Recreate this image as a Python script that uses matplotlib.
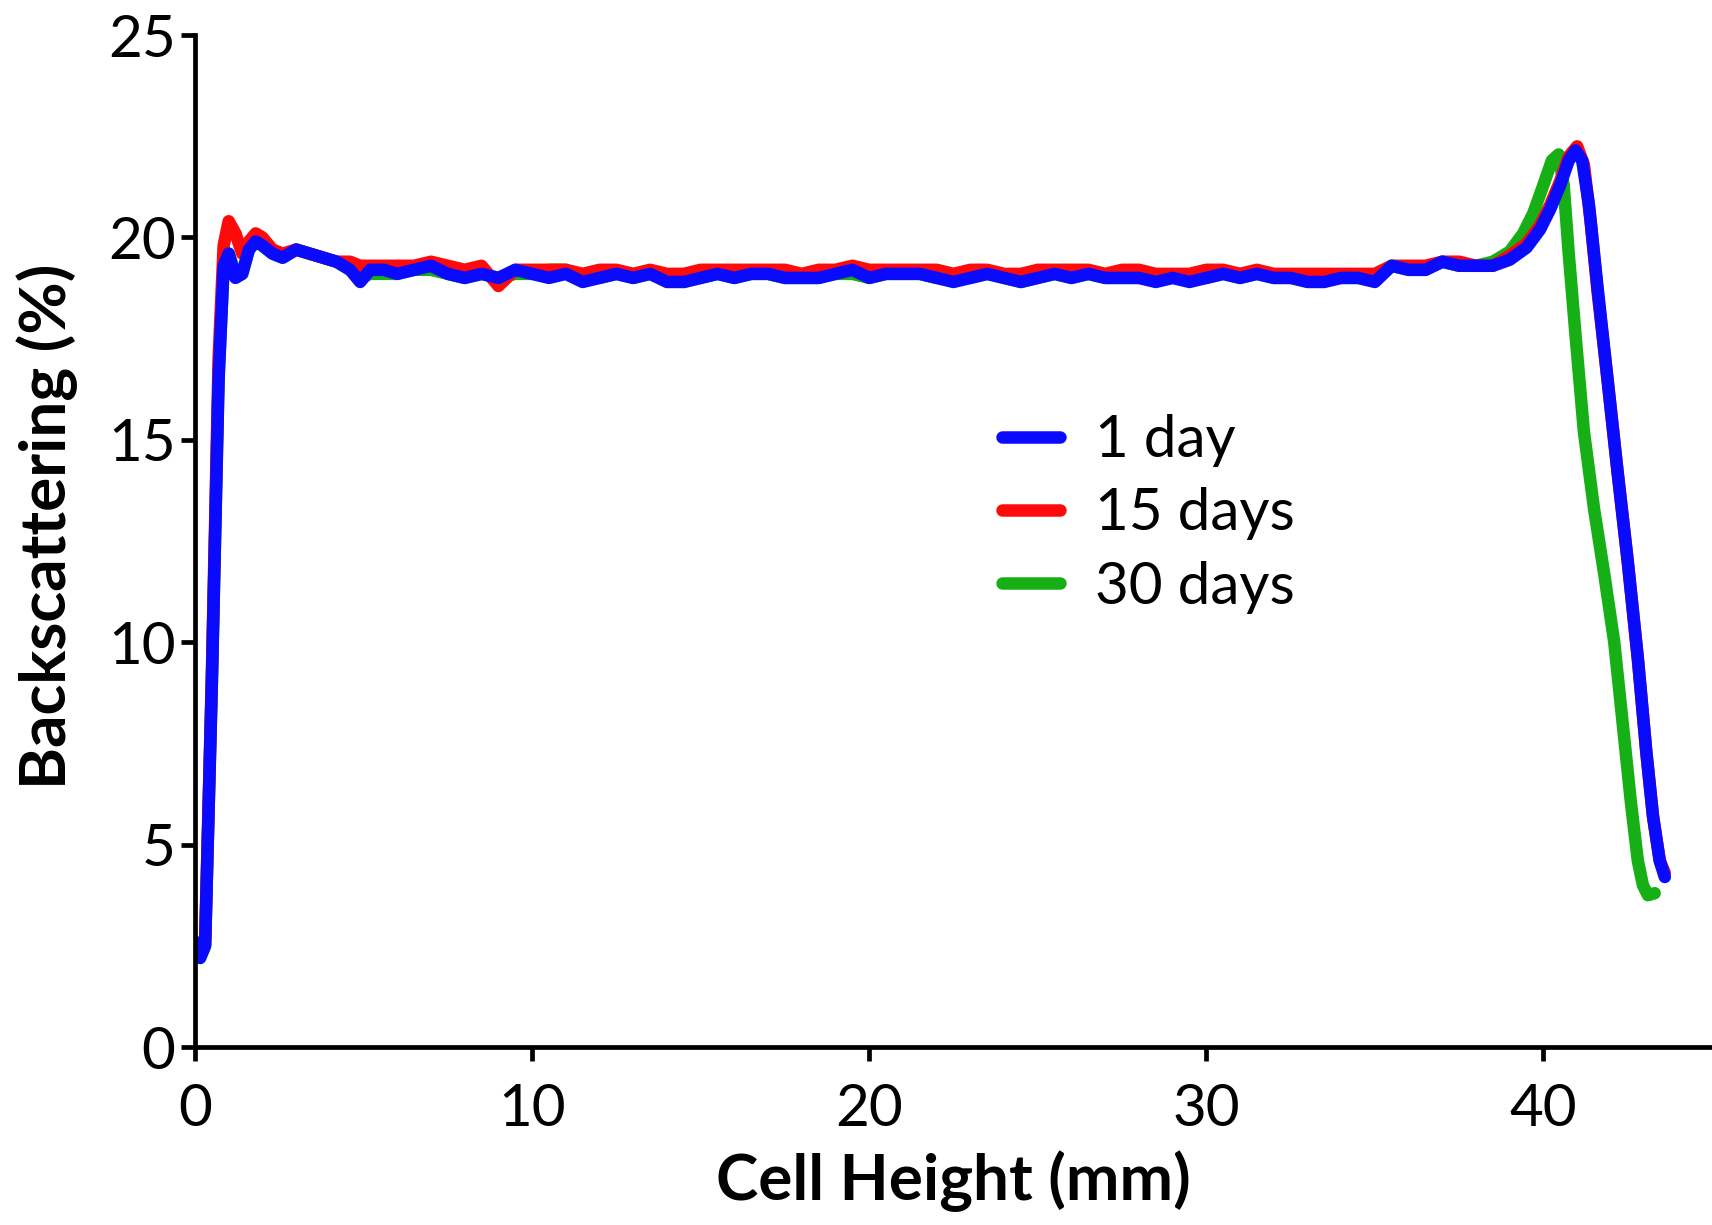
import matplotlib
matplotlib.use('Agg')
import matplotlib.pyplot as plt

plt.rcParams['font.family'] = ['Lato', 'DejaVu Sans']

# ---- data (cell height in mm, backscattering in %) ----
x_common = [0.0, 0.15, 0.3, 0.5, 0.7, 0.85, 1.0, 1.2, 1.4, 1.6, 1.8, 2.0, 2.3, 2.6,
            3.0, 3.4, 3.8, 4.2, 4.6, 4.9, 5.2, 5.6, 6.0, 6.5, 7.0, 7.5, 8.0, 8.5,
            9.0, 9.5, 10.0, 10.5, 11.0, 11.5, 12.0, 12.5, 13.0, 13.5, 14.0, 14.5,
            15.0, 15.5, 16.0, 16.5, 17.0, 17.5, 18.0, 18.5, 19.0, 19.5, 20.0, 20.5,
            21.0, 21.5, 22.0, 22.5, 23.0, 23.5, 24.0, 24.5, 25.0, 25.5, 26.0, 26.5,
            27.0, 27.5, 28.0, 28.5, 29.0, 29.5, 30.0, 30.5, 31.0, 31.5, 32.0, 32.5,
            33.0, 33.5, 34.0, 34.5, 35.0, 35.5, 36.0, 36.5, 37.0, 37.5, 38.0, 38.5]

day1_flat = [2.6, 2.2, 2.5, 9.0, 16.5, 19.3, 19.6, 19.0, 19.1, 19.7, 19.9, 19.8, 19.6, 19.5,
             19.7, 19.6, 19.5, 19.4, 19.2, 18.9, 19.2, 19.2, 19.1, 19.2, 19.3, 19.1, 19.0, 19.1,
             19.0, 19.2, 19.1, 19.0, 19.1, 18.9, 19.0, 19.1, 19.0, 19.1, 18.9, 18.9,
             19.0, 19.1, 19.0, 19.1, 19.1, 19.0, 19.0, 19.0, 19.1, 19.2, 19.0, 19.1,
             19.1, 19.1, 19.0, 18.9, 19.0, 19.1, 19.0, 18.9, 19.0, 19.1, 19.0, 19.1,
             19.0, 19.0, 19.0, 18.9, 19.0, 18.9, 19.0, 19.1, 19.0, 19.1, 19.0, 19.0,
             18.9, 18.9, 19.0, 19.0, 18.9, 19.3, 19.2, 19.2, 19.4, 19.3, 19.3, 19.3]
day15_flat = [2.6, 2.3, 2.6, 9.2, 17.0, 19.8, 20.4, 20.1, 19.6, 19.9, 20.1, 20.0, 19.7, 19.6,
              19.7, 19.6, 19.5, 19.4, 19.4, 19.3, 19.3, 19.3, 19.3, 19.3, 19.4, 19.3, 19.2, 19.3,
              18.8, 19.2, 19.2, 19.2, 19.2, 19.1, 19.2, 19.2, 19.1, 19.2, 19.1, 19.1,
              19.2, 19.2, 19.2, 19.2, 19.2, 19.2, 19.1, 19.2, 19.2, 19.3, 19.2, 19.2,
              19.2, 19.2, 19.2, 19.1, 19.2, 19.2, 19.1, 19.1, 19.2, 19.2, 19.2, 19.2,
              19.1, 19.2, 19.2, 19.1, 19.1, 19.1, 19.2, 19.2, 19.1, 19.2, 19.1, 19.1,
              19.1, 19.1, 19.1, 19.1, 19.1, 19.3, 19.3, 19.3, 19.4, 19.4, 19.3, 19.3]
day30_flat = [2.6, 2.2, 2.5, 9.0, 16.6, 19.3, 19.6, 19.1, 19.1, 19.7, 19.9, 19.8, 19.6, 19.5,
              19.7, 19.6, 19.5, 19.4, 19.2, 19.0, 19.1, 19.1, 19.1, 19.2, 19.2, 19.1, 19.0, 19.1,
              19.0, 19.1, 19.1, 19.2, 19.2, 19.0, 19.0, 19.1, 19.0, 19.1, 19.0, 18.9,
              19.0, 19.1, 19.0, 19.1, 19.1, 19.0, 19.0, 19.0, 19.1, 19.1, 19.0, 19.1,
              19.1, 19.1, 19.0, 19.0, 19.0, 19.1, 19.0, 18.9, 19.0, 19.1, 19.0, 19.1,
              19.0, 19.0, 19.0, 19.0, 19.0, 19.0, 19.0, 19.1, 19.0, 19.1, 19.0, 19.0,
              19.0, 19.0, 19.0, 19.0, 19.0, 19.3, 19.2, 19.2, 19.4, 19.3, 19.3, 19.4]

x_tail_1 = [39.0, 39.5, 39.9, 40.2, 40.5, 40.75, 40.95, 41.15, 41.35, 41.6, 41.9, 42.2,
            42.5, 42.8, 43.05, 43.25, 43.45, 43.6]
day1_tail = [19.45, 19.75, 20.2, 20.7, 21.3, 21.9, 22.15, 21.9, 20.8, 18.8, 16.5, 14.2,
             12.0, 9.6, 7.3, 5.7, 4.6, 4.2]
x_tail_15 = [39.0, 39.5, 39.9, 40.2, 40.5, 40.75, 41.0, 41.2, 41.4, 41.6, 41.9, 42.2,
             42.5, 42.8, 43.05, 43.25, 43.45, 43.6]
day15_tail = [19.55, 19.85, 20.3, 20.8, 21.4, 22.0, 22.25, 21.8, 20.4, 18.7, 16.5, 14.2,
              12.0, 9.6, 7.3, 5.7, 4.6, 4.3]
x_tail_30 = [39.0, 39.4, 39.7, 40.0, 40.25, 40.45, 40.6, 40.75, 40.95, 41.2, 41.5, 41.8,
             42.1, 42.35, 42.6, 42.8, 42.95, 43.1, 43.3]
day30_tail = [19.65, 20.1, 20.6, 21.3, 21.9, 22.05, 21.3, 19.6, 17.6, 15.2, 13.3, 11.7,
              10.0, 8.0, 6.0, 4.6, 4.0, 3.75, 3.8]

labels = ['1 day', '15 days', '30 days']
colors = ['#0a0aff', '#ff0a0a', '#16b016']

fig = plt.figure(figsize=(17.12, 12.25), dpi=100)
ax = fig.add_axes([0.1139, 0.1453, 0.8861, 0.8261])

# draw 30 days first so 1 day ends up on top, like the reference
line_kw = dict(lw=9, solid_capstyle='round', solid_joinstyle='round')
h30, = ax.plot(x_common + x_tail_30, day30_flat + day30_tail, color=colors[2], **line_kw)
h15, = ax.plot(x_common + x_tail_15, day15_flat + day15_tail, color=colors[1], **line_kw)
h1, = ax.plot(x_common + x_tail_1, day1_flat + day1_tail, color=colors[0], **line_kw)

ax.set_xlim(0, 45)
ax.set_ylim(0, 25)
ax.set_xticks([0, 10, 20, 30, 40])
ax.set_yticks([0, 5, 10, 15, 20, 25])

for s in ['top', 'right']:
    ax.spines[s].set_visible(False)
for s in ['left', 'bottom']:
    ax.spines[s].set_linewidth(3.4)
ax.tick_params(axis='both', direction='out', length=10, width=3.4, labelsize=42)
ax.tick_params(axis='x', pad=16)
ax.tick_params(axis='y', pad=4)

ax.set_xlabel('Cell Height (mm)', fontsize=46, fontweight='bold', labelpad=10)
ax.set_ylabel('Backscattering (%)', fontsize=46, fontweight='bold')
ax.yaxis.set_label_coords(-0.077, 0.515)

leg = ax.legend([h1, h15, h30], labels, loc='upper left', bbox_to_anchor=(0.585, 0.662),
                bbox_transform=fig.transFigure, frameon=False, fontsize=42,
                handlelength=1.0, handletextpad=0.6, labelspacing=0.35,
                borderaxespad=0, borderpad=0)
for lh in leg.get_lines():
    lh.set_linewidth(9)

fig.savefig('out.png', dpi=100)
